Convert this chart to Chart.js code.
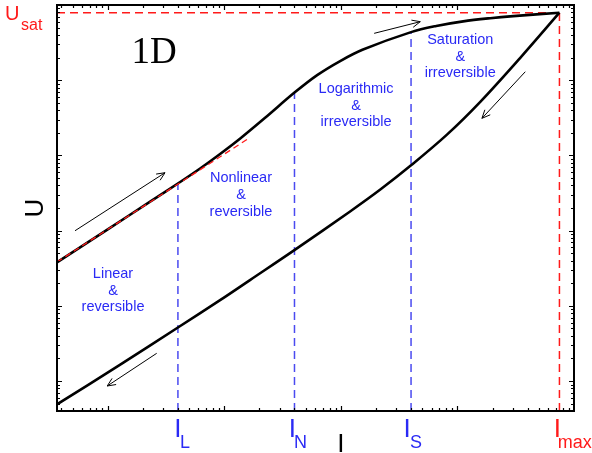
<!DOCTYPE html>
<html>
<head>
<meta charset="utf-8">
<script src="https://cdn.jsdelivr.net/npm/chart.js@4/dist/chart.umd.min.js"></script>
<style>
html,body{margin:0;padding:0;background:#fff;}
canvas{display:block;}
</style>
</head>
<body>
<canvas id="c" width="592" height="453"></canvas>
<script>
// ---- data (log-log axes) ----
const xRange = [0.367, 10000];
const yRange = [0.4, 100000];

// loading branch (upper curve)
const upperI = [0.367, 1, 2.31, 4.18, 6.2, 9.2, 13.7, 22.4, 40, 62.6, 98.6, 155, 400, 658, 1120, 1910, 3010, 7500];
const upperU = [37.9, 104, 243, 443, 670, 1044, 1677, 3162, 6840, 11690, 18000, 25600, 43600, 52560, 60520, 66750, 71200, 79000];

// unloading branch (lower curve)
const lowerI = [0.367, 1.28, 4, 9.2, 16.6, 40.5, 120, 218, 400, 813, 1570, 3460, 7500];
const lowerU = [0.49, 1.65, 5.15, 11.9, 22, 55.9, 180, 352, 739, 1890, 5160, 19860, 79000];

// linear fit (red dashed)
const fitI = [0.367, 16.5];
const fitU = [38.2, 1716];

// characteristic currents and their values on the loading branch
const markNames = ["L", "N", "S", "max"];
const markI = [4, 40, 400, 7500];
const markU = [426, 6840, 43600, 79000];
const U_sat = 79000;

// arrows [from -> to]
const arrowFromI = [0.524, 193, 3820, 2.63];
const arrowFromU = [99.7, 42000, 12970, 2.34];
const arrowToI = [3.10, 480, 1623, 0.99];
const arrowToU = [589, 60000, 3115, 0.86];

// region labels (centre of the middle line, in data units)
const regionLines = [["Linear", "&", "reversible"], ["Nonlinear", "&", "reversible"], ["Logarithmic", "&", "irreversible"], ["Saturation", "&", "irreversible"]];
const regionI = [1.11, 13.9, 135, 1057];
const regionU = [16.0, 297, 4610, 20650];

const BLUE_TXT = "#2a2af5";
const BLUE_LN = "#4a4af0";
const RED = "#ff1a1a";

// label placement tweaks (pixels): centre of "I" and start of subscript relative to the mark
const labelIOffset = [0, -2, -4, -2];
const labelSubOffset = [2.2, -0.5, -1, -1.8];

function pts(xs, ys) { return xs.map((x, i) => ({x: x, y: ys[i]})); }

const datasets = [];
datasets.push({data: pts(fitI, fitU), borderColor: RED, borderWidth: 1.3, borderDash: [6, 4], order: 0});
datasets.push({data: pts(upperI, upperU), borderColor: "#000", borderWidth: 2.6, tension: 0.35, order: 1});
datasets.push({data: pts(lowerI, lowerU), borderColor: "#000", borderWidth: 2.6, tension: 0.35, order: 2});
for (let i = 0; i < markI.length; i++) {
  const isMax = markNames[i] === "max";
  datasets.push({data: [{x: markI[i], y: yRange[0]}, {x: markI[i], y: markU[i]}], borderColor: isMax ? RED : BLUE_LN, borderWidth: 1.5, borderDash: [8, 5], order: 5});
}
datasets.push({data: [{x: xRange[0], y: U_sat}, {x: markI[3], y: U_sat}], borderColor: RED, borderWidth: 1.5, borderDash: [8, 5], order: 5});

const decoPlugin = {
  id: "deco",
  afterDatasetsDraw(chart) {
    const ctx = chart.ctx, xs = chart.scales.x, ys = chart.scales.y, a = chart.chartArea;
    ctx.save();
    // ticks (inward, mirrored)
    ctx.strokeStyle = "#000"; ctx.lineWidth = 1.2;
    for (let e = -2; e <= 5; e++) {
      for (let k = 1; k <= 9; k++) {
        const v = k * Math.pow(10, e);
        const len = k === 1 ? 5 : 3;
        if (v > xRange[0] && v < xRange[1]) {
          const px = Math.round(xs.getPixelForValue(v)) + 0.5;
          ctx.beginPath(); ctx.moveTo(px, a.bottom); ctx.lineTo(px, a.bottom - len);
          ctx.moveTo(px, a.top); ctx.lineTo(px, a.top + len); ctx.stroke();
        }
        if (v > yRange[0] && v < yRange[1]) {
          const py = Math.round(ys.getPixelForValue(v)) + 0.5;
          ctx.beginPath(); ctx.moveTo(a.left, py); ctx.lineTo(a.left + len, py);
          ctx.moveTo(a.right, py); ctx.lineTo(a.right - len, py); ctx.stroke();
        }
      }
    }
    // frame
    ctx.lineWidth = 2;
    ctx.strokeRect(a.left, a.top, a.right - a.left, a.bottom - a.top);

    // arrows
    ctx.lineWidth = 1;
    for (let i = 0; i < arrowFromI.length; i++) {
      const x0 = xs.getPixelForValue(arrowFromI[i]), y0 = ys.getPixelForValue(arrowFromU[i]);
      const x1 = xs.getPixelForValue(arrowToI[i]), y1 = ys.getPixelForValue(arrowToU[i]);
      const ang = Math.atan2(y1 - y0, x1 - x0), hl = 9, ha = 0.42;
      ctx.beginPath(); ctx.moveTo(x0, y0); ctx.lineTo(x1, y1);
      ctx.moveTo(x1 - hl * Math.cos(ang - ha), y1 - hl * Math.sin(ang - ha));
      ctx.lineTo(x1, y1);
      ctx.lineTo(x1 - hl * Math.cos(ang + ha), y1 - hl * Math.sin(ang + ha));
      ctx.stroke();
    }

    // region labels
    ctx.fillStyle = BLUE_TXT; ctx.font = "14.5px 'Liberation Sans', Arial, sans-serif";
    ctx.textAlign = "center"; ctx.textBaseline = "middle";
    for (let i = 0; i < regionLines.length; i++) {
      const cx = xs.getPixelForValue(regionI[i]), cy = ys.getPixelForValue(regionU[i]);
      regionLines[i].forEach((t, j) => ctx.fillText(t, cx, cy + (j - 1) * 16.8));
    }

    // 1D
    ctx.fillStyle = "#000"; ctx.font = "37px 'Liberation Serif', 'Times New Roman', serif";
    ctx.textAlign = "center"; ctx.textBaseline = "alphabetic";
    ctx.fillText("1D", xs.getPixelForValue(2.5), ys.getPixelForValue(25200) + 13);

    // x labels
    for (let i = 0; i < markI.length; i++) {
      const px = xs.getPixelForValue(markI[i]);
      ctx.fillStyle = markNames[i] === "max" ? RED : BLUE_TXT;
      ctx.textAlign = "center";
      ctx.font = "26px 'Liberation Sans', Arial, sans-serif";
      ctx.fillText("I", px + labelIOffset[i], a.bottom + 26);
      ctx.textAlign = "left";
      ctx.font = "18px 'Liberation Sans', Arial, sans-serif";
      ctx.fillText(markNames[i], px + labelSubOffset[i], a.bottom + 37);
    }
    // axis titles
    ctx.fillStyle = "#000";
    ctx.font = "26px 'Liberation Sans', Arial, sans-serif";
    ctx.textAlign = "center";
    ctx.fillText("I", xs.getPixelForValue(100), a.bottom + 41);
    ctx.save();
    ctx.translate(43, (a.top + a.bottom) / 2);
    ctx.rotate(-Math.PI / 2);
    ctx.fillText("U", 0, 0);
    ctx.restore();
    // U_sat
    ctx.fillStyle = RED; ctx.textAlign = "left";
    ctx.font = "20px 'Liberation Sans', Arial, sans-serif";
    ctx.fillText("U", 5, 19.5);
    ctx.font = "16px 'Liberation Sans', Arial, sans-serif";
    ctx.fillText("sat", 21, 30);
    ctx.restore();
  }
};

new Chart(document.getElementById("c"), {
  type: "scatter",
  data: {datasets: datasets},
  options: {
    responsive: false,
    animation: false,
    devicePixelRatio: 1,
    showLine: true,
    elements: {point: {radius: 0, hoverRadius: 0}, line: {fill: false}},
    plugins: {legend: {display: false}, tooltip: {enabled: false}},
    events: [],
    layout: {padding: {left: 57, right: 18, top: 5, bottom: 42}},
    scales: {
      x: {type: "logarithmic", min: xRange[0], max: xRange[1], display: false},
      y: {type: "logarithmic", min: yRange[0], max: yRange[1], display: false}
    }
  },
  plugins: [decoPlugin]
});
</script>
</body>
</html>
